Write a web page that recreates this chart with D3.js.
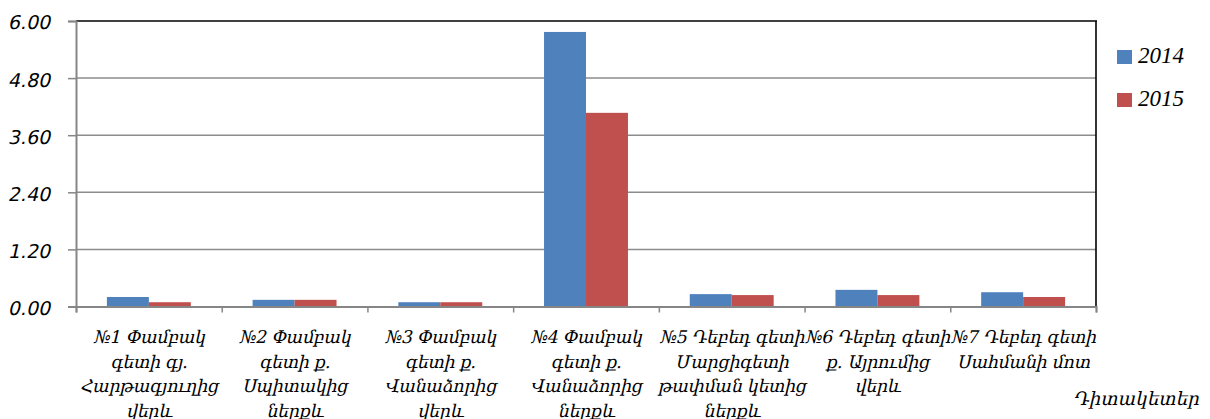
<!DOCTYPE html>
<html>
<head>
<meta charset="utf-8">
<script src="https://cdn.jsdelivr.net/npm/d3@7"></script>
<style>
  html, body { margin: 0; padding: 0; background: #fff; }
  svg { display: block; }
</style>
</head>
<body>
<svg id="chart" width="1210" height="419"></svg>
<script>
const categories = [
  ["№1 Փամբակ", "գետի գյ.", "Հարթագյուղից", "վերև"],
  ["№2 Փամբակ", "գետի ք.", "Սպիտակից", "ներքև"],
  ["№3 Փամբակ", "գետի ք.", "Վանաձորից", "վերև"],
  ["№4 Փամբակ", "գետի ք.", "Վանաձորից", "ներքև"],
  ["№5 Դեբեդ գետի", "Մարցիգետի", "թափման կետից", "ներքև"],
  ["№6 Դեբեդ գետի", "ք. Այրումից", "վերև"],
  ["№7 Դեբեդ գետի", "Սահմանի մոտ"]
];
const seriesNames = ["2014", "2015"];
const values2014 = [0.20, 0.14, 0.09, 5.77, 0.26, 0.35, 0.30];
const values2015 = [0.09, 0.14, 0.09, 4.07, 0.24, 0.24, 0.20];
const yTicks = [0, 1.2, 2.4, 3.6, 4.8, 6.0];
const xAxisTitle = "Դիտակետեր";
const colors = ["#4f81bd", "#c0504d"];

(function () {
const svg = d3.select("#chart");
const pLeft = 76, pRight = 1096, pTop = 21, pBottom = 306.5;
const skew = "skewX(-13)";

const idx = categories.map((d, i) => i);
const x = d3.scaleBand().domain(idx).range([pLeft, pRight]).padding(0);
const y = d3.scaleLinear().domain([0, 6]).range([pBottom, pTop]);
const bw = x.bandwidth() * 0.288;
const xs = d3.scaleBand().domain([0, 1]).range([0, 2 * bw]).padding(0);
const offset = (x.bandwidth() - 2 * bw) / 2;

// gridlines
svg.append("g").selectAll("line").data(yTicks.filter(t => t > 0 && t < 6)).join("line")
  .attr("x1", pLeft).attr("x2", pRight)
  .attr("y1", d => y(d)).attr("y2", d => y(d))
  .attr("stroke", "#8c8c8c").attr("stroke-width", 1.5);

// plot border top & right
svg.append("line").attr("x1", pLeft).attr("x2", pRight + 1).attr("y1", y(6)).attr("y2", y(6))
  .attr("stroke", "#000").attr("stroke-width", 1.6);
svg.append("line").attr("x1", pRight).attr("x2", pRight).attr("y1", y(6)).attr("y2", pBottom)
  .attr("stroke", "#000").attr("stroke-width", 1.6);

// bars
const series = [values2014, values2015];
series.forEach((vals, s) => {
  svg.append("g").selectAll("rect").data(vals).join("rect")
    .attr("x", (d, i) => x(i) + offset + xs(s))
    .attr("width", xs.bandwidth())
    .attr("y", d => y(d))
    .attr("height", d => y(0) - y(d))
    .attr("fill", colors[s]);
});

// y axis
const yAxis = d3.axisLeft(y).tickValues(yTicks).tickFormat(d3.format(".2f")).tickSize(8).tickPadding(16);
const gy = svg.append("g").attr("transform", `translate(${pLeft},0)`).call(yAxis);
gy.select(".domain").attr("stroke", "#868686").attr("stroke-width", 2);
gy.selectAll(".tick line").attr("stroke", "#868686").attr("stroke-width", 1.5);
gy.selectAll(".tick text")
  .attr("fill", "#000")
  .attr("dy", "0.42em")
  .attr("transform", skew)
  .style("font-family", "'DejaVu Sans', Verdana, sans-serif")
  .style("font-size", "19px");

// x axis
const xTickScale = d3.scaleLinear().domain([0, categories.length]).range([pLeft, pRight]);
const xAxis = d3.axisBottom(xTickScale).tickValues(d3.range(0, categories.length + 1)).tickSize(6).tickFormat("");
const gx = svg.append("g").attr("transform", `translate(0,${pBottom})`).call(xAxis);
gx.select(".domain").attr("stroke", "#868686").attr("stroke-width", 2);
gx.selectAll(".tick line").attr("stroke", "#868686").attr("stroke-width", 1.5);

// category labels
const labels = svg.append("g")
  .style("font-family", "'DejaVu Serif', serif")
  .style("font-size", "17.5px")
  .attr("fill", "#000");
categories.forEach((lines, i) => {
  lines.forEach((ln, j) => {
    labels.append("text")
      .attr("text-anchor", "middle")
      .attr("transform", `translate(${x(i) + x.bandwidth() / 2},${343 + j * 24.5}) ${skew}`)
      .style("letter-spacing", "-0.3px")
      .text(ln);
  });
});

// x axis title
svg.append("text").attr("text-anchor", "end")
  .attr("transform", `translate(1199,405) ${skew}`)
  .style("font-family", "'DejaVu Serif', serif").style("font-size", "18.5px")
  .text(xAxisTitle);

// legend
const lg = svg.append("g");
seriesNames.forEach((n, i) => {
  const yy = 50 + i * 43;
  lg.append("rect").attr("x", 1117).attr("y", yy).attr("width", 15).attr("height", 14).attr("fill", colors[i]);
  lg.append("text").attr("x", 1138).attr("y", yy + 13)
    .style("font-family", "'Liberation Serif', 'Times New Roman', serif")
    .style("font-style", "italic").style("font-size", "23px")
    .text(n);
});
})();
</script>
</body>
</html>
